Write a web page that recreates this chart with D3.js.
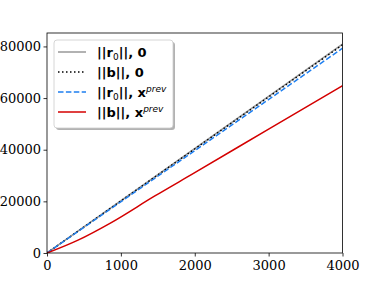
<!DOCTYPE html>
<html><head><meta charset="utf-8">
<script src="https://cdn.jsdelivr.net/npm/d3@7"></script>
<style>body{margin:0;background:#fff}svg{display:block}</style>
</head><body>
<script>
const xTicks = [0, 1000, 2000, 3000, 4000];
const yTicks = [0, 20000, 40000, 60000, 80000];
const grayX = [0, 4000];
const grayY = [0, 80900];
const blackX = [0, 4000];
const blackY = [0, 80600];
const blueX = [0, 4000];
const blueY = [0, 79300];
const redX = [0, 420, 870, 1460, 2000, 3000, 4000];
const redY = [0, 5000, 11800, 22100, 31100, 48000, 64800];

const W = 381, H = 285;
const L = 47, R = 342.5, T = 33, B = 253;
const svg = d3.select("body").append("svg").attr("width", W).attr("height", H);
const x = d3.scaleLinear().domain([0, 4000]).range([L, R]);
const y = d3.scaleLinear().domain([0, 85200]).range([B, T]);

svg.append("clipPath").attr("id","c").append("rect")
  .attr("x", L).attr("y", T).attr("width", R-L).attr("height", B-T);

const series = [
  {xs: grayX, ys: grayY, color: "#999999", dash: null, w: 1.5},
  {xs: blackX, ys: blackY, color: "#000000", dash: "1.5,2.5", w: 1.5},
  {xs: blueX, ys: blueY, color: "#1e7ff0", dash: "5.5,2.4", w: 1.5},
  {xs: redX, ys: redY, color: "#d40000", dash: null, w: 1.5}
];
const line = d3.line().x(d => x(d[0])).y(d => y(d[1])).curve(d3.curveMonotoneX);
const g = svg.append("g").attr("clip-path", "url(#c)");
series.forEach(s => {
  g.append("path").datum(s.xs.map((v,i)=>[v, s.ys[i]]))
    .attr("d", line).attr("fill","none").attr("stroke", s.color)
    .attr("stroke-width", s.w).attr("stroke-dasharray", s.dash);
});

const xa = svg.append("g").attr("transform", `translate(0,${B})`)
  .call(d3.axisBottom(x).tickValues(xTicks).tickFormat(d3.format("d")).tickSize(3.5).tickSizeOuter(0));
const ya = svg.append("g").attr("transform", `translate(${L},0)`)
  .call(d3.axisLeft(y).tickValues(yTicks).tickFormat(d3.format("d")).tickSize(3.5).tickSizeOuter(0));
[xa, ya].forEach(a => {
  a.select(".domain").remove();
  a.selectAll("text").attr("font-family", "DejaVu Serif").attr("font-size", 13).attr("fill", "#000");
  a.selectAll("line").attr("stroke", "#000").attr("stroke-width", 0.8);
});
xa.selectAll("text").attr("dy", "0.9em").attr("y", 5);
ya.selectAll("text").attr("x", -6);

svg.append("rect").attr("x", L).attr("y", T).attr("width", R-L).attr("height", B-T)
  .attr("fill","none").attr("stroke","#000").attr("stroke-width",0.8);

// legend
const lg = svg.append("g");
lg.append("rect").attr("x", 56).attr("y", 42).attr("width", 119).attr("height", 88)
  .attr("rx", 3).attr("fill", "#000").attr("opacity", 0.3);
lg.append("rect").attr("x", 54).attr("y", 40).attr("width", 119).attr("height", 88)
  .attr("rx", 3).attr("fill", "#fff").attr("stroke", "#ccc").attr("stroke-width", 0.8);
const rows = [52, 72, 92, 112];
series.forEach((s, i) => {
  lg.append("line").attr("x1", 58).attr("x2", 86).attr("y1", rows[i]).attr("y2", rows[i])
    .attr("stroke", s.color).attr("stroke-width", s.w).attr("stroke-dasharray", s.dash);
});
function addText(i, parts) {
  const t = lg.append("text").attr("x", 97).attr("y", rows[i] + 4.5)
    .attr("font-family", "DejaVu Sans").attr("font-size", 13).attr("fill", "#000");
  parts.forEach(p => {
    const ts = t.append("tspan").text(p.t).attr("font-weight", p.b ? "bold" : "normal");
    if (p.i) ts.attr("font-style", "italic");
    if (p.fs) ts.attr("font-size", p.fs);
    if (p.dy) ts.attr("dy", p.dy);
  });
}
addText(0, [{t:"||r", b:1}, {t:"0", fs:9, dy:3}, {t:"||, 0", b:1, dy:-3}]);
addText(1, [{t:"||b||, 0", b:1}]);
addText(2, [{t:"||r", b:1}, {t:"0", fs:9, dy:3}, {t:"||, x", b:1, dy:-3}, {t:"prev", i:1, fs:9, dy:-5}]);
addText(3, [{t:"||b||, x", b:1}, {t:"prev", i:1, fs:9, dy:-5}]);
</script>
</body></html>
